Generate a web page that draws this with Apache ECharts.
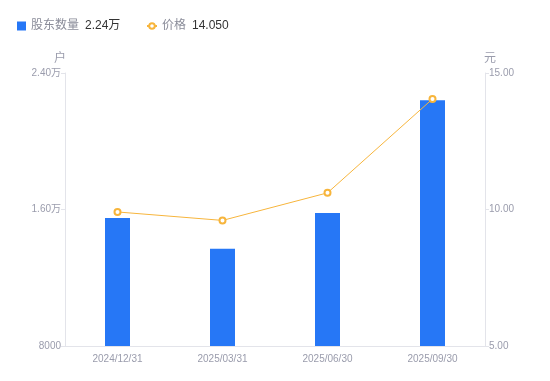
<!DOCTYPE html>
<html>
<head>
<meta charset="utf-8">
<script src="https://cdn.jsdelivr.net/npm/echarts@6/dist/echarts.min.js"></script>
<style>
	html, body { margin: 0; padding: 0; background: #fff; }
	#chart { width: 550px; height: 381px; }
</style>
</head>
<body>
<div id="chart"></div>
<script>
	const dates = ["2024/12/31", "2025/03/31", "2025/06/30", "2025/09/30"];
	const holders = [15500, 13700, 15800, 22400];
	const prices = [9.91, 9.6, 10.61, 14.05];
	const holderTicks = { min: 8000, max: 24000, interval: 8000 };
	const priceTicks = { min: 5, max: 15, interval: 5 };

	const FONT = "Liberation Sans, Noto Sans CJK SC, sans-serif";
	const AXIS_TEXT = "#9a9cac";
	const AXIS_LINE = "#e3e4ea";

	// 户数格式化：万以上显示两位小数
	const formatHolders = value => {
		return value >= 10000 ? (value / 10000).toFixed(2) + "万" : String(value);
	};

	const lastHolder = formatHolders(holders[holders.length - 1]);
	const lastPrice = prices[prices.length - 1].toFixed(3);

	const legendText = {
		fontFamily: FONT,
		rich: {
			n: { color: "#8a8c99", fontSize: 12, fontFamily: FONT },
			v: { color: "#333", fontSize: 12, fontFamily: FONT, padding: [0, 0, 0, 6] }
		}
	};
	const legendFormatter = name => {
		const v = name === "股东数量" ? lastHolder : lastPrice;
		return `{n|${name}}{v|${v}}`;
	};

	const chart = echarts.init(document.getElementById("chart"));

	const option = {
		animation: false,
		textStyle: { fontFamily: FONT },
		legend: [
			{
				left: 12,
				top: 15,
				itemWidth: 9,
				itemHeight: 9,
				textStyle: legendText,
				formatter: legendFormatter,
				data: [{ name: "股东数量", icon: "rect" }]
			},
			{
				left: 141,
				top: 15,
				itemWidth: 10,
				itemHeight: 7,
				textStyle: legendText,
				formatter: legendFormatter,
				data: ["价格"]
			}
		],
		grid: {
			left: 65,
			right: 65,
			top: 73,
			bottom: 35
		},
		xAxis: {
			type: "category",
			data: dates,
			axisLine: { lineStyle: { color: AXIS_LINE } },
			axisTick: { show: false },
			axisLabel: { color: AXIS_TEXT, fontSize: 10, margin: 8 }
		},
		yAxis: [
			{
				type: "value",
				name: "户",
				nameGap: 8,
				nameTextStyle: { color: AXIS_TEXT, fontSize: 12, padding: [0, 10, 0, 0] },
				min: holderTicks.min,
				max: holderTicks.max,
				interval: holderTicks.interval,
				splitLine: { show: false },
				axisLine: { show: true, lineStyle: { color: AXIS_LINE } },
				axisTick: { show: true, length: 4, lineStyle: { color: AXIS_LINE } },
				axisLabel: { color: AXIS_TEXT, fontSize: 10, margin: 4, formatter: formatHolders }
			},
			{
				type: "value",
				name: "元",
				nameGap: 8,
				nameTextStyle: { color: AXIS_TEXT, fontSize: 12, padding: [0, 0, 0, 10] },
				min: priceTicks.min,
				max: priceTicks.max,
				interval: priceTicks.interval,
				splitLine: { show: false },
				axisLine: { show: true, lineStyle: { color: AXIS_LINE } },
				axisTick: { show: true, length: 4, lineStyle: { color: AXIS_LINE } },
				axisLabel: { color: AXIS_TEXT, fontSize: 10, margin: 4, formatter: v => v.toFixed(2) }
			}
		],
		series: [
			{
				name: "股东数量",
				type: "bar",
				yAxisIndex: 0,
				barWidth: 25,
				data: holders,
				itemStyle: { color: "#2677f6" }
			},
			{
				name: "价格",
				type: "line",
				yAxisIndex: 1,
				data: prices,
				symbol: "emptyCircle",
				symbolSize: 6,
				lineStyle: { color: "#f7b53c", width: 1 },
				itemStyle: { color: "#f7b53c", borderWidth: 2 }
			}
		]
	};

	chart.setOption(option);
	window.addEventListener("resize", () => chart.resize());
</script>
</body>
</html>
